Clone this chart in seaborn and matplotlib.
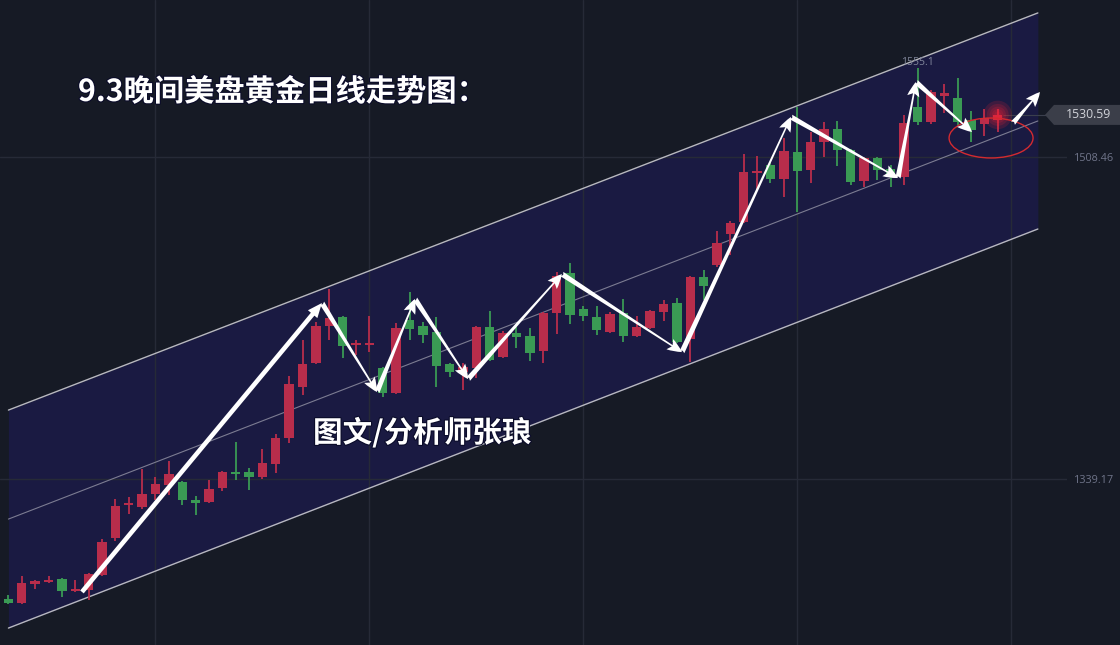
import numpy as np
import pandas as pd
import matplotlib
matplotlib.use("Agg")
import matplotlib.pyplot as plt
import matplotlib.patheffects as pe
import seaborn as sns
from matplotlib.patches import Ellipse, Polygon

# ---------------- data (daily gold candles) ----------------
opens = [1276.1, 1274.0, 1284.0, 1285.0, 1286.6, 1280.3, 1280.8, 1288.7, 1308.2, 1325.5,
         1324.4, 1331.3, 1336.0, 1337.6, 1328.1, 1327.1, 1334.4, 1342.9, 1342.9, 1340.2,
         1347.1, 1360.7, 1387.5, 1400.2, 1419.6, 1424.3, 1409.6, 1409.6, 1397.5, 1384.4,
         1422.8, 1419.6, 1416.5, 1399.6, 1395.4, 1397.5, 1419.1, 1403.3, 1415.9, 1414.4,
         1406.5, 1426.4, 1447.5, 1428.5, 1424.3, 1416.5, 1426.4, 1414.4, 1418.6, 1427.0,
         1431.7, 1412.8, 1445.4, 1451.7, 1468.0, 1474.3, 1500.1, 1504.3, 1496.9, 1511.1,
         1501.6, 1516.3, 1523.2, 1512.1, 1495.8, 1507.9, 1502.2, 1497.9, 1534.7, 1526.9,
         1540.5, 1539.5, 1527.9, 1525.8, 1527.9]
highs = [1278.2, 1288.2, 1286.1, 1288.2, 1287.1, 1286.1, 1289.8, 1307.6, 1328.7, 1329.7,
         1344.4, 1340.2, 1348.6, 1338.1, 1330.2, 1338.6, 1343.4, 1358.6, 1345.0, 1354.9,
         1362.8, 1393.3, 1412.3, 1421.7, 1439.1, 1424.9, 1412.3, 1424.9, 1398.1, 1421.2,
         1437.5, 1421.7, 1424.3, 1400.2, 1400.2, 1419.6, 1427.5, 1417.0, 1419.1, 1418.6,
         1427.0, 1448.0, 1452.7, 1430.1, 1430.1, 1427.0, 1433.8, 1424.9, 1428.0, 1433.3,
         1434.3, 1445.9, 1449.1, 1469.6, 1474.8, 1510.0, 1509.0, 1505.3, 1518.5, 1534.7,
         1521.6, 1526.9, 1527.4, 1512.7, 1508.5, 1508.5, 1504.3, 1530.5, 1555.1, 1543.7,
         1546.8, 1550.0, 1532.6, 1533.7, 1533.7]
lows = [1273.5, 1273.5, 1281.3, 1284.5, 1277.1, 1279.8, 1275.6, 1288.2, 1306.6, 1320.8,
        1323.4, 1328.1, 1330.8, 1325.5, 1320.2, 1326.6, 1332.9, 1338.6, 1333.4, 1339.2,
        1342.3, 1358.1, 1383.3, 1399.6, 1412.3, 1402.8, 1404.4, 1405.9, 1382.3, 1383.9,
        1412.3, 1410.7, 1387.5, 1392.8, 1386.0, 1392.3, 1401.2, 1402.8, 1408.0, 1401.2,
        1400.2, 1415.4, 1420.7, 1422.2, 1414.9, 1415.9, 1411.2, 1413.8, 1418.0, 1422.2,
        1410.7, 1400.7, 1433.3, 1450.6, 1456.9, 1473.8, 1491.1, 1494.8, 1487.4, 1479.5,
        1494.8, 1508.5, 1503.7, 1493.7, 1492.7, 1496.4, 1492.7, 1493.7, 1525.3, 1525.8,
        1531.6, 1525.3, 1516.3, 1519.5, 1521.6]
closes = [1274.0, 1284.5, 1285.5, 1286.1, 1280.3, 1281.3, 1289.2, 1306.0, 1325.0, 1326.6,
          1331.3, 1336.5, 1341.8, 1328.1, 1326.6, 1333.9, 1342.9, 1341.8, 1340.2, 1347.6,
          1360.7, 1389.1, 1399.6, 1419.6, 1423.8, 1409.1, 1410.7, 1410.7, 1384.4, 1418.6,
          1418.0, 1414.9, 1398.6, 1395.4, 1398.1, 1419.1, 1401.7, 1415.9, 1413.8, 1405.4,
          1426.4, 1445.9, 1425.4, 1424.9, 1417.5, 1425.9, 1414.4, 1419.1, 1427.5, 1431.2,
          1411.2, 1445.4, 1440.6, 1463.2, 1473.8, 1500.6, 1501.1, 1496.9, 1511.6, 1501.1,
          1516.3, 1523.2, 1512.1, 1495.3, 1507.9, 1501.6, 1499.5, 1526.3, 1526.9, 1542.6,
          1542.1, 1526.9, 1522.7, 1529.0, 1530.59]

# price channel (candle index -> price)
channel_x = [0, 77]
channel_upper = [1375.4, 1584.2]
channel_lower = [1260.8, 1470.6]

# zig-zag swing arrows (candle index, price)
pivot_idx = [5.5, 23.45, 27.57, 30.41, 34.38, 41.4, 50.38, 58.53, 66.54, 67.88, 72.07]
pivot_price = [1279.8, 1431.7, 1384.9, 1433.8, 1391.7, 1446.9, 1405.9, 1529.5, 1497.4, 1547.9, 1521.6]
proj_idx = [75.14, 77.16]
proj_price = [1526.3, 1542.6]

ytick_values = [1339.17, 1508.46]
ytick_labels = ["1339.17", "1508.46"]
last_price = 1530.59
high_label = "1555.1"
title_text = "9.3晚间美盘黄金日线走势图："
author_text = "图文/分析师张琅"

# ---------------- style ----------------
BG = "#161a25"
FILL = "#1a1a42"
RED = "#b82d4b"
GREEN = "#3a9a54"
W, H = 1120, 645

sns.set_theme(style="dark", rc={"axes.facecolor": BG, "figure.facecolor": BG})
plt.rcParams["font.family"] = ["Noto Sans CJK SC", "DejaVu Sans"]

fig = plt.figure(figsize=(11.2, 6.45), dpi=100)
ax = fig.add_axes([0, 0, 1067 / W, 1])
ax.set_facecolor(BG)
ax.set_xlim(-0.63, 79.18)
ax.set_ylim(1251.9, 1591.0)
for s in ax.spines.values():
    s.set_visible(False)

# grid
ax.set_xticks([11, 27, 43, 59, 75])
ax.set_yticks(ytick_values)
ax.set_yticklabels(ytick_labels, family="Open Sans")
ax.yaxis.tick_right()
ax.tick_params(axis="x", length=0, labelbottom=False)
ax.tick_params(axis="y", length=0, pad=5, labelsize=7.8, labelcolor="#70758a")
ax.grid(True, color="#262a37", lw=1.0)
ax.set_axisbelow("line")

# channel
ax.fill_between(channel_x, channel_lower, channel_upper, color=FILL, zorder=1, lw=0)
sns.lineplot(x=channel_x, y=channel_upper, ax=ax, color="#b8b8c0", lw=1.0, zorder=2)
sns.lineplot(x=channel_x, y=channel_lower, ax=ax, color="#b8b8c0", lw=1.0, zorder=2)
mid = [(a + b) / 2 for a, b in zip(channel_upper, channel_lower)]
sns.lineplot(x=channel_x, y=mid, ax=ax, color="#7c7c92", lw=0.8, zorder=2)

# candles
df = pd.DataFrame({"open": opens, "high": highs, "low": lows, "close": closes})
df["idx"] = np.arange(len(df))
up = df["close"] >= df["open"]
colors = np.where(up, RED, GREEN)
ax.vlines(df["idx"], df["low"], df["high"], colors=colors, lw=1.3, zorder=3)
body_bottom = np.minimum(df["open"], df["close"])
body_h = np.maximum((df["close"] - df["open"]).abs(), 1.0)
ax.bar(df["idx"], body_h, bottom=body_bottom, width=0.7, color=colors, lw=0, zorder=4)

# glow on last candle
last_i = df["idx"].iloc[-1]
ax.scatter([last_i] * 5, [last_price] * 5, s=[420, 250, 140, 70, 25],
           color="#ff2233", alpha=0.16, lw=0, zorder=4.5)

# last price line + tag
ax.hlines(last_price, last_i + 0.4, 79.18, color="#3b3f4d", lw=0.8, zorder=2)
yl = ax.transData.transform((0, last_price))[1]  # display y of the last price
tag = Polygon([(1045 / W, yl / H), (1054 / W, (yl + 10) / H), (1.0, (yl + 10) / H),
               (1.0, (yl - 10) / H), (1054 / W, (yl - 10) / H)],
              closed=True, transform=fig.transFigure, fc="#3b3e49", ec="none", zorder=9)
fig.patches.append(tag)
fig.text(1066 / W, yl / H, "1530.59", ha="left", va="center", fontsize=8.8,
         color="#d2d4da", family="Open Sans", zorder=10)

# high label
ax.annotate(high_label, xy=(68, 1555.1), xytext=(0, 0.5), textcoords="offset points",
            ha="center", va="bottom", fontsize=7.5, color="#80859a", family="Open Sans")

# red ellipse
ax.add_patch(Ellipse((73.5, 1518.45), width=6.28, height=21.0, fill=False,
                     ec="#d42a30", lw=1.0, zorder=6))

# arrows
for k in range(len(pivot_idx) - 1):
    start = (pivot_idx[k], pivot_price[k])
    end = (pivot_idx[k + 1], pivot_price[k + 1])
    if k == 0:
        style = "simple,head_width=0.8,head_length=0.95,tail_width=0.3"
    else:
        style = "fancy,head_width=0.8,head_length=0.95,tail_width=0.34"
    ax.annotate("", xy=end, xytext=start,
                arrowprops=dict(arrowstyle=style, color="white", lw=0,
                                mutation_scale=11, shrinkA=0, shrinkB=0),
                zorder=7)
ax.annotate("", xy=(proj_idx[1], proj_price[1]), xytext=(proj_idx[0], proj_price[0]),
            arrowprops=dict(arrowstyle="fancy,head_width=0.8,head_length=0.95,tail_width=0.34",
                            color="white", lw=0, mutation_scale=11, shrinkA=0, shrinkB=0),
            zorder=7)

# texts
shadow = [pe.withStroke(linewidth=1.6, foreground="#0b0c2a")]
fig.text(78 / W, 1 - 92 / H, title_text, ha="left", va="center", fontsize=21.8,
         weight="bold", color="white", path_effects=shadow)
fig.text(313 / W, 1 - 433 / H, author_text, ha="left", va="center", fontsize=21.3,
         weight="bold", color="white", path_effects=shadow)

fig.savefig("out.png", dpi=100, facecolor=BG)
